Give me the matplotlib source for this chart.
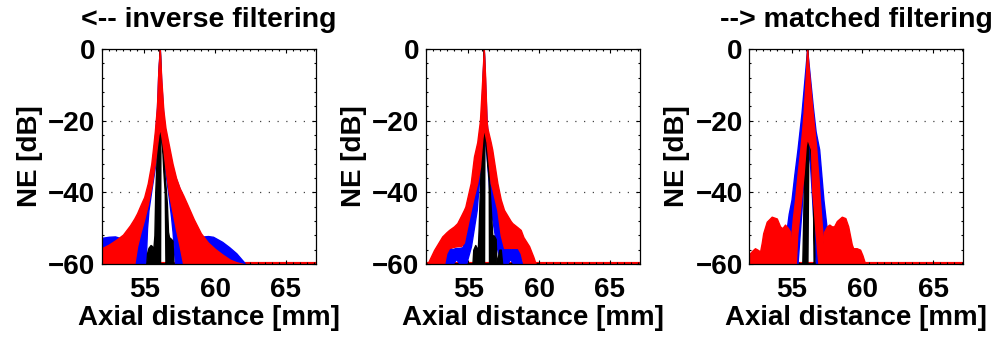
import matplotlib
matplotlib.use("Agg")
import matplotlib.pyplot as plt
from matplotlib.ticker import MultipleLocator

plt.rcParams['font.family'] = ['Liberation Sans', 'DejaVu Sans']
plt.rcParams['font.weight'] = 'bold'

# ---------------- data (axial distance in mm, normalized envelope in dB) ----------------
# Panel 1: inverse filtering
inv_black_x  = [55.15, 55.2, 55.3, 55.45, 55.55, 55.62, 55.72, 55.78, 55.88, 55.97, 56.05, 56.1, 56.12, 56.15, 56.25, 56.35, 56.45, 56.5, 56.6, 56.68, 56.75, 56.9, 57.0, 57.06]
inv_black_hi = [-60, -57, -55.5, -54.7, -55, -57, -52, -40, -30, -18, -4, 0, -2, -8, -22, -30, -36, -38, -43, -51, -52.5, -53, -53.5, -60]
inv_black_lo = [-60, -60, -60, -60, -60, -60, -60, -60, -60, -60, -60, -60, -60, -14, -26, -34, -40, -60, -60, -60, -60, -60, -60, -60]

inv_blue_x  = [52.0, 52.5, 52.94, 53.5, 54.0, 54.5, 55.0, 55.1, 55.2, 55.3, 55.5, 55.75, 55.9, 56.0, 56.1, 56.2, 56.35, 56.5, 56.75, 56.9, 57.0, 57.17, 57.5, 58.0, 58.5, 58.94, 59.5, 59.86, 60.5, 61.0, 61.5, 62.0, 62.12]
inv_blue_hi = [-52.7, -52.4, -52.3, -53.0, -51.0, -47.5, -43.0, -42.0, -40.5, -38.5, -34.0, -25.0, -16.5, -6.0, 0, -9, -18.5, -23.5, -28.5, -31.5, -33.0, -35.5, -39.0, -44.0, -48.5, -52.4, -52.2, -52.4, -53.8, -55.3, -57.0, -59.3, -60]
inv_blue_lo = [-60, -60, -60, -60, -60, -60, -60, -60, -50, -45, -39.5, -33, -28, -25, -23, -25, -29.5, -34.5, -42, -47, -51, -60, -60, -60, -60, -60, -60, -60, -60, -60, -60, -60, -60]

inv_red_x  = [52.0, 52.5, 53.0, 53.5, 54.0, 54.3, 54.5, 54.75, 55.0, 55.25, 55.5, 55.6, 55.75, 55.9, 56.0, 56.1, 56.2, 56.35, 56.5, 56.75, 57.0, 57.25, 57.5, 57.75, 58.0, 58.5, 59.0, 59.5, 60.0, 60.5, 61.06, 61.5, 62.0]
inv_red_hi = [-55.6, -54.6, -53.3, -51.8, -49.2, -47.3, -45.8, -43.5, -41.3, -37.5, -32.0, -28.5, -23.0, -16.0, -6.0, 0, -8, -17, -22, -27, -32.0, -36.0, -38.8, -40.8, -43.0, -47.5, -51.4, -54.0, -55.8, -57.3, -58.8, -59.5, -60]
inv_red_lo = [-60, -60, -60, -60, -60, -60, -55, -51, -47.5, -43.5, -38.5, -36, -32, -27, -24, -22, -24, -28, -33.2, -40.5, -45.5, -50.5, -55, -60, -60, -60, -60, -60, -60, -60, -60, -60, -60]

# Panel 2: intermediate filter
mid_black_x  = [55.3, 55.36, 55.5, 55.6, 55.66, 55.74, 55.82, 55.92, 56.0, 56.1, 56.12, 56.15, 56.25, 56.35, 56.45, 56.47, 56.6, 56.7, 56.8, 56.94, 57.0, 57.2, 57.3, 57.4]
mid_black_hi = [-60, -56, -54.7, -55.5, -58, -50, -40, -28, -12, 0, -2, -8, -22, -30, -35, -36, -45, -52, -52, -53, -60, -56, -56, -60]
mid_black_lo = [-60, -60, -60, -60, -60, -60, -60, -60, -60, -60, -60, -14, -26, -32, -36, -60, -60, -60, -60, -60, -60, -60, -60, -60]

mid_blue_x  = [53.3, 53.45, 53.7, 53.9, 54.15, 54.4, 54.6, 54.85, 55.2, 55.6, 55.9, 56.05, 56.1, 56.15, 56.3, 56.6, 57.0, 57.3, 57.5, 57.75, 57.95, 58.2, 58.5, 58.7, 58.8]
mid_blue_hi = [-60, -56, -55.5, -55.8, -55.5, -55.5, -55.3, -52, -44, -35, -20, -5, 0, -5, -20, -35, -44, -52, -55.3, -55.5, -55.8, -55.5, -55.5, -56.5, -60]
mid_blue_lo = [-60, -60, -60, -60, -58.6, -60, -60, -60, -55, -45, -30, -26, -23, -25, -30, -45, -55, -60, -60, -60, -58.6, -60, -60, -60, -60]

mid_red_x  = [52.12, 52.59, 53.17, 53.3, 53.45, 53.65, 54.0, 54.23, 54.5, 54.7, 54.8, 55.18, 55.41, 55.64, 55.83, 56.0, 56.1, 56.2, 56.3, 56.35, 56.59, 56.7, 57.06, 57.3, 57.53, 58.0, 58.12, 58.5, 58.71, 58.9, 59.3, 59.6, 59.77]
mid_red_hi = [-60, -56.1, -52.3, -51.8, -51.2, -50.5, -49.5, -48.6, -46.5, -44.9, -44.0, -37.4, -30.0, -26.0, -20.0, -8.0, 0, -8, -20, -22, -26, -28.1, -37.4, -42, -44.9, -48, -48.6, -49.8, -50.5, -52.5, -55.0, -58.0, -60]
mid_red_lo = [-60, -60, -60, -60, -57, -55.5, -55.2, -55, -55, -54, -52, -45, -41, -37.4, -33, -25, -22, -24, -26, -28, -37.4, -39, -45, -52, -55.5, -55.5, -55.5, -55.5, -57, -60, -60, -60, -60]

# Panel 3: matched filtering
mf_black_x  = [55.76, 55.8, 55.86, 55.94, 56.02, 56.1, 56.12, 56.2, 56.35, 56.5, 56.56, 56.62]
mf_black_hi = [-60, -52, -40, -26, -10, 0, -2, -12, -26, -33, -45, -60]
mf_black_lo = [-60, -60, -60, -60, -60, -60, -60, -20, -30, -38, -60, -60]

mf_blue_x  = [54.42, 54.6, 54.8, 55.0, 55.2, 55.42, 55.7, 55.9, 56.1, 56.3, 56.5, 56.7, 56.95, 57.1, 57.25, 57.45, 57.6, 57.72]
mf_blue_hi = [-60, -52, -46, -42, -35, -28, -18, -9, 0, -8, -16, -23, -28, -35, -42, -49, -54, -60]
mf_blue_lo = [-60, -60, -60, -60, -60, -60, -45, -32, -27, -32, -45, -60, -60, -60, -60, -60, -60, -60]

mf_red_x  = [54.85, 55.0, 55.1, 55.25, 55.3, 55.4, 55.45, 55.62, 55.74, 55.85, 56.0, 56.05, 56.1, 56.2, 56.38, 56.45, 56.6, 56.7, 56.75, 56.8, 56.9, 57.0, 57.15, 57.3, 57.4]
mf_red_hi = [-60, -51.4, -47, -42, -40, -36, -34, -28, -23, -18, -8, -4, 0, -5, -13, -16, -22, -26, -28, -31, -36, -42, -50, -56, -60]
mf_red_lo = [-60, -60, -60, -60, -60, -52, -50, -44, -39.3, -35, -27, -26, -25, -26, -28, -39.3, -46, -51.4, -53.5, -56, -60, -60, -60, -60, -60]

mf_lobe_left_x  = [52.0, 52.07, 52.25, 52.42, 52.6, 52.78, 52.9, 53.0, 53.25, 53.6, 53.96, 54.19, 54.35, 54.54, 54.75, 54.9, 54.95]
mf_lobe_left_hi = [-58.6, -57.0, -56.2, -55.6, -56.0, -56.5, -54.0, -51.4, -48.2, -46.8, -47.3, -49.5, -50.0, -49.0, -50.0, -51.0, -60]
mf_lobe_right_x  = [57.25, 57.3, 57.5, 57.67, 57.84, 58.0, 58.2, 58.55, 58.8, 59.0, 59.25, 59.35, 59.6, 59.84, 60.0, 60.2]
mf_lobe_right_hi = [-60, -51.0, -49.5, -49.0, -49.5, -49.5, -48.0, -46.8, -47.2, -49.5, -54.5, -55.6, -55.6, -56.0, -57.5, -60]

# level of the flat floor where the envelope is clipped
floor_db = -60.0
# extent of the black reference trace lying on the floor
black_floor_span = (52.0, 60.0)

# ---------------- drawing ----------------
BLACK, BLUE, RED = 'black', '#0000ff', '#ff0000'
FS = 20

fig = plt.figure(figsize=(10.03, 3.37), dpi=100)
lefts = [0.1014, 0.4244, 0.7468]
width, height, bottom = 0.2137, 0.638, 0.2166

# drawing order: blue, black, red
panels = [
    [(inv_blue_x, inv_blue_lo, inv_blue_hi, BLUE),
     (inv_black_x, inv_black_lo, inv_black_hi, BLACK),
     (inv_red_x, inv_red_lo, inv_red_hi, RED)],
    [(mid_blue_x, mid_blue_lo, mid_blue_hi, BLUE),
     (mid_black_x, mid_black_lo, mid_black_hi, BLACK),
     (mid_red_x, mid_red_lo, mid_red_hi, RED)],
    [(mf_blue_x, mf_blue_lo, mf_blue_hi, BLUE),
     (mf_black_x, mf_black_lo, mf_black_hi, BLACK),
     (mf_lobe_left_x, [floor_db] * len(mf_lobe_left_x), mf_lobe_left_hi, RED),
     (mf_lobe_right_x, [floor_db] * len(mf_lobe_right_x), mf_lobe_right_hi, RED),
     (mf_red_x, mf_red_lo, mf_red_hi, RED)],
]
titles = ['<-- inverse filtering', '', '--> matched filtering']

for left, series, title in zip(lefts, panels, titles):
    ax = fig.add_axes([left, bottom, width, height])
    ax.axhline(floor_db, color=RED, lw=3.0, zorder=1)
    ax.hlines(floor_db, *black_floor_span, color=BLACK, lw=2.0, zorder=1.5)
    for x, lo, hi, c in series:
        ax.fill_between(x, lo, hi, color=c, lw=1.0, edgecolor=c,
                        joinstyle='round', zorder=2)
    ax.set_xlim(52.0, 67.13)
    ax.set_ylim(-60, 0)
    ax.set_xticks([55, 60, 65])
    ax.set_yticks([-60, -40, -20, 0])
    ax.xaxis.set_minor_locator(MultipleLocator(0.5))
    ax.yaxis.set_minor_locator(MultipleLocator(4))
    ax.tick_params(which='both', direction='in', top=True, right=True,
                   labelsize=FS, width=0.8)
    ax.tick_params(axis='x', pad=9)
    ax.tick_params(axis='y', pad=4.5)
    ax.tick_params(which='major', length=3)
    ax.tick_params(which='minor', length=1.5)
    ax.grid(axis='y', which='major', color='#444444', linestyle=(0, (1, 6)), lw=0.9)
    for sp in ax.spines.values():
        sp.set_linewidth(0.9)
        sp.set_zorder(5)
    ax.set_xlabel('Axial distance [mm]', fontsize=FS, fontweight='bold', labelpad=1.5)
    ax.set_ylabel('NE [dB]', fontsize=FS, fontweight='bold', labelpad=4)
    if title:
        ax.set_title(title, fontsize=20.5, fontweight='bold', pad=16)
    for lab in ax.get_xticklabels() + ax.get_yticklabels():
        lab.set_fontweight('bold')

fig.savefig('out.png', dpi=100)
